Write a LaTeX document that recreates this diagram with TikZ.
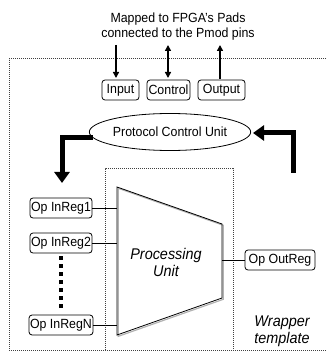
\documentclass[tikz,border=0pt]{standalone}
\usepackage{fontspec}
\setmainfont[FakeStretch=0.93]{Liberation Sans}
\usetikzlibrary{shapes.geometric,arrows.meta}
\begin{document}
\begin{tikzpicture}[x=1pt,y=-1pt,
  every node/.style={font=\fontsize{13.3}{15}\selectfont},
  regbox/.style={draw,rounded corners=3pt,line width=0.8pt,inner sep=1pt,minimum height=20pt},
  dotbox/.style={draw,line width=1pt,dash pattern=on 1pt off 1pt,black!75},
  thin/.style={line width=0.8pt},
  bigarrow/.style={line width=5pt,-{Triangle[length=11pt,width=15pt]}},
  smallarrow/.style={line width=1.6pt,-{Triangle[length=6pt,width=6pt]}}]
\useasboundingbox (0,0) rectangle (326,352);
% wrapper box (right side extends beyond picture)
\draw[dotbox] (340,59) -- (9,59) -- (9,350) -- (340,350);
% inner box
\draw[dotbox] (105,350) -- (105,169) -- (233,169) -- (233,350);
% top text
\node[align=center,inner sep=0] (title) at (178,27) {Mapped to FPGA's Pads\\connected to the Pmod pins};
% IO boxes
\node[regbox,minimum width=37pt] (in) at (120.5,90) {Input};
\node[regbox,minimum width=43pt] (ctl) at (168.5,90) {Control};
\node[regbox,minimum width=47pt] (out) at (221.5,90) {Output};
\coordinate (inT) at (116,45);
\coordinate (ctlT) at (168,45);
\coordinate (outT) at (220,45);
\draw[smallarrow] (inT) -- (116,78);
\draw[smallarrow,{Triangle[length=6pt,width=6pt]}-{Triangle[length=6pt,width=6pt]}] (ctlT) -- (168,78);
\draw[smallarrow] (220,79) -- (outT);
% protocol control unit
\node[draw,ellipse,thin,minimum width=142pt,minimum height=37pt,inner sep=0] (pcu) at (170,132) {Protocol Control Unit};
% big arrows
\coordinate (la) at (93,138);
\coordinate (lb) at (62,183);
\draw[bigarrow] (la) -- (62,138) -- (lb);
\coordinate (ra) at (293,173);
\coordinate (rb) at (253,133);
\draw[bigarrow] (ra) -- (293,133) -- (rb);
% processing unit
\draw[gray!60,line width=1.2pt] (118.3,188.3) -- (223.3,225.3) -- (223.3,299.3) -- (118.3,336.3) -- cycle;
\draw[thin] (117,187) coordinate (pu1) -- (222,224) -- (222,298) -- (117,335) coordinate (pu2) -- cycle;
\node[font=\fontsize{15.5}{17}\selectfont\itshape,align=center] (pu) at (166,262) {Processing\\Unit};
% registers
\node[regbox,minimum width=62pt] (r1) at (61,208) {Op InReg1};
\node[regbox,minimum width=62pt] (r2) at (61,243) {Op InReg2};
\node[regbox,minimum width=62pt] (rn) at (61,325) {Op InRegN};
\node[regbox,minimum width=70pt] (ro) at (280,260) {Op OutReg};
\coordinate (p1) at (117,208);
\coordinate (p2) at (117,243);
\coordinate (pn) at (117,325);
\coordinate (po) at (222,260);
\draw[thin] (r1.east) -- (p1);
\draw[thin] (r2.east) -- (p2);
\draw[thin] (rn.east) -- (pn);
\draw[thin] (po) -- (ro.west);
\draw[line width=4pt,dash pattern=on 4pt off 4pt] (r2.south) ++(0,3) coordinate (d1) -- (61,310) coordinate (d2);
% wrapper label
\node[font=\fontsize{15.5}{17}\selectfont\itshape,align=center] (wt) at (282,331) {Wrapper\\template};
\end{tikzpicture}
\end{document}
